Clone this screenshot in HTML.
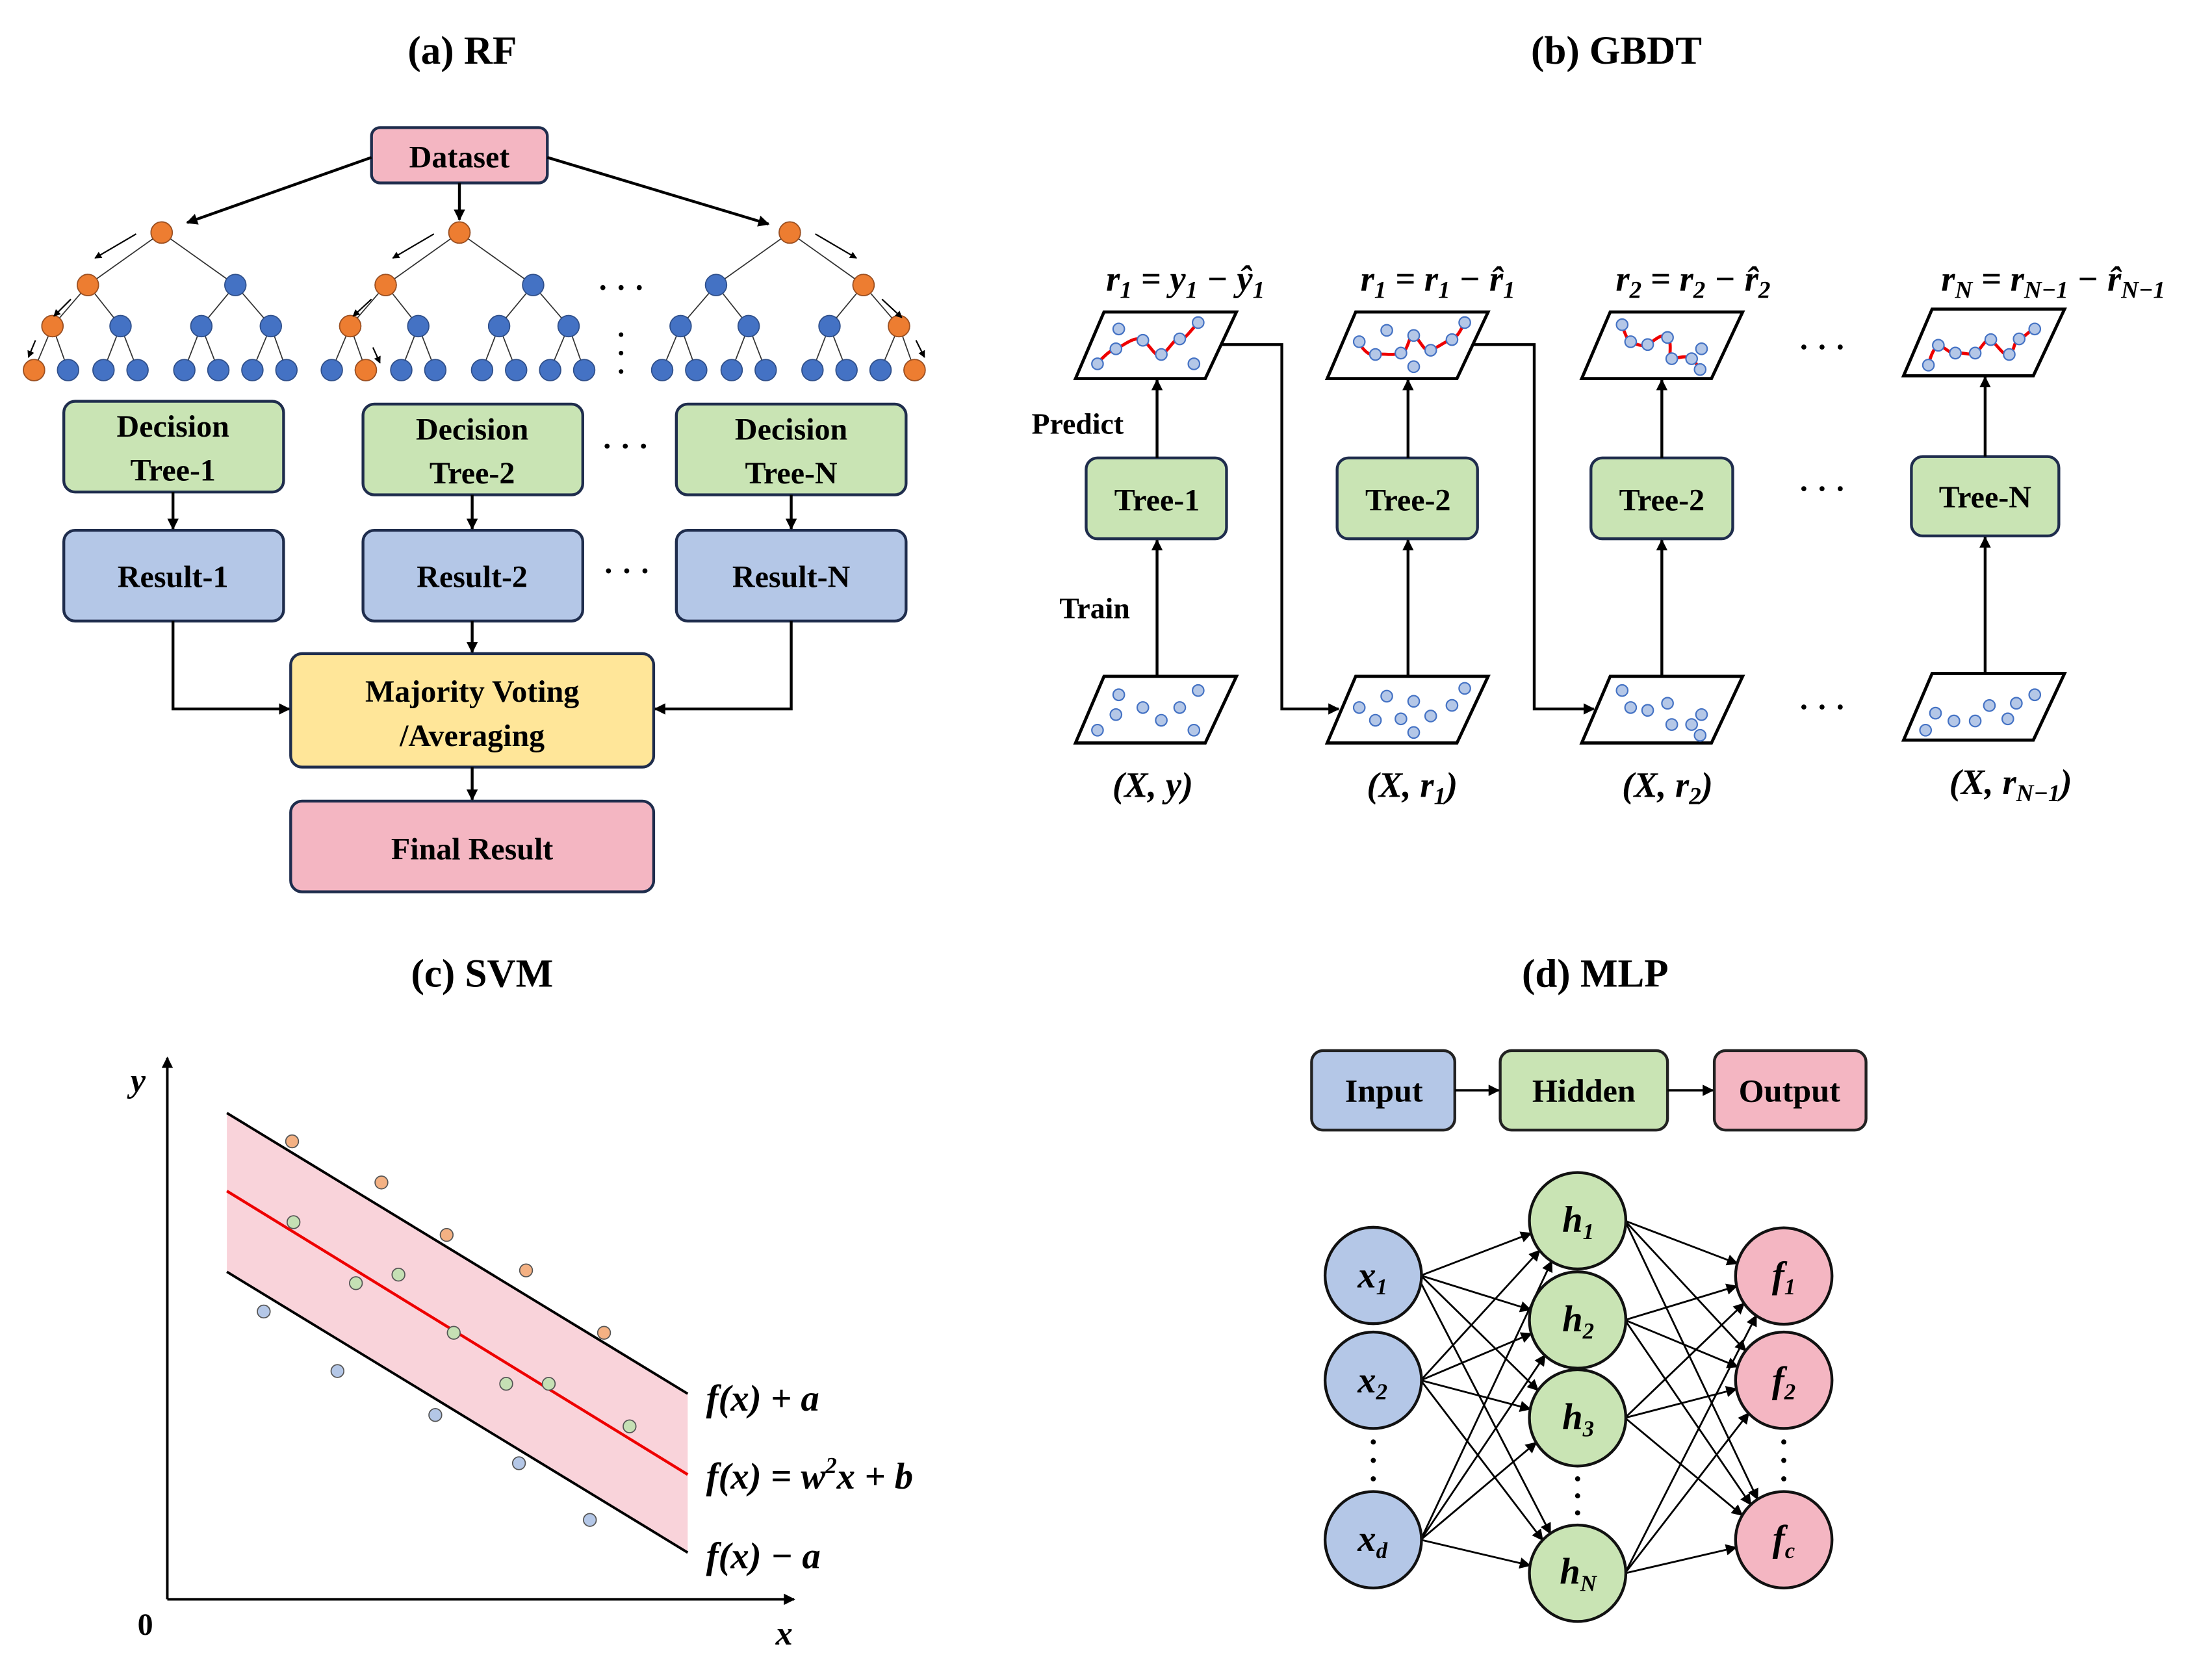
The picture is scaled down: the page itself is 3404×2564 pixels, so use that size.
<!DOCTYPE html>
<html><head><meta charset="utf-8"><style>
html,body{margin:0;padding:0;background:#fff}
svg{display:block}
text{font-family:"Liberation Serif",serif;font-weight:bold;fill:#000}
</style></head><body>
<svg width="3404" height="2564" viewBox="0 0 1560 1175" xmlns="http://www.w3.org/2000/svg">
<defs>
<marker id="ah" viewBox="0 0 10 10" refX="9" refY="5" markerWidth="8" markerHeight="8" markerUnits="userSpaceOnUse" orient="auto"><path d="M0,0L10,5L0,10z" fill="#000"/></marker>
<marker id="as" viewBox="0 0 10 10" refX="9" refY="5" markerWidth="5" markerHeight="5" markerUnits="userSpaceOnUse" orient="auto"><path d="M0,0L10,5L0,10z" fill="#000"/></marker>
<g id="tree">
<path d="M114,164L62,201M114,164L166,201M62,201L37,230M62,201L85,230M166,201L142,230M166,201L191,230M37,230L24,261M37,230L48,261M85,230L73,261M85,230L97,261M142,230L130,261M142,230L154,261M191,230L178,261M191,230L202,261" stroke="#333" stroke-width="0.8" fill="none"/>
<g fill="#4472c4" stroke="#2f4f8a" stroke-width="0.8">
<circle cx="114" cy="164" r="7.5"/><circle cx="62" cy="201" r="7.5"/><circle cx="166" cy="201" r="7.5"/>
<circle cx="37" cy="230" r="7.5"/><circle cx="85" cy="230" r="7.5"/><circle cx="142" cy="230" r="7.5"/><circle cx="191" cy="230" r="7.5"/>
<circle cx="24" cy="261" r="7.5"/><circle cx="48" cy="261" r="7.5"/><circle cx="73" cy="261" r="7.5"/><circle cx="97" cy="261" r="7.5"/>
<circle cx="130" cy="261" r="7.5"/><circle cx="154" cy="261" r="7.5"/><circle cx="178" cy="261" r="7.5"/><circle cx="202" cy="261" r="7.5"/>
</g></g>
<polygon id="para" points="758.5,267 778.6,220 872,220 850,267" fill="#fff" stroke="#000" stroke-width="2.2"/>
</defs>

<!-- (a) RF -->
<text x="326" y="45" font-size="28" text-anchor="middle">(a) RF</text>
<rect x="262" y="90" width="124" height="39" rx="6" fill="#f4b6c2" stroke="#1f2d4d" stroke-width="2"/>
<text x="324" y="118" font-size="22" text-anchor="middle">Dataset</text>
<g stroke="#000" stroke-width="2" fill="none" marker-end="url(#ah)">
<line x1="262" y1="111" x2="132" y2="157"/>
<line x1="324" y1="129" x2="324" y2="155"/>
<line x1="386" y1="111" x2="542" y2="158"/>
</g>
<use href="#tree"/>
<use href="#tree" transform="translate(210,0)"/>
<use href="#tree" transform="translate(443,0)"/>
<g fill="#ed7d31" stroke="#a0501e" stroke-width="0.8">
<circle cx="114" cy="164" r="7.5"/><circle cx="62" cy="201" r="7.5"/><circle cx="37" cy="230" r="7.5"/><circle cx="24" cy="261" r="7.5"/>
<circle cx="324" cy="164" r="7.5"/><circle cx="272" cy="201" r="7.5"/><circle cx="247" cy="230" r="7.5"/><circle cx="258" cy="261" r="7.5"/>
<circle cx="557" cy="164" r="7.5"/><circle cx="609" cy="201" r="7.5"/><circle cx="634" cy="230" r="7.5"/><circle cx="645" cy="261" r="7.5"/>
</g>
<g stroke="#000" stroke-width="1" marker-end="url(#as)">
<line x1="96" y1="165" x2="67" y2="182"/><line x1="50" y1="211" x2="38" y2="223"/><line x1="25" y1="240" x2="20" y2="252"/>
<line x1="306" y1="165" x2="277" y2="182"/><line x1="262" y1="211" x2="249" y2="223"/><line x1="263" y1="245" x2="268" y2="256"/>
<line x1="575" y1="165" x2="604" y2="182"/><line x1="622" y1="211" x2="636" y2="224"/><line x1="646" y1="240" x2="652" y2="252"/>
</g>
<text x="438" y="210" font-size="22" text-anchor="middle">· · ·</text>
<g fill="#000"><circle cx="438" cy="236" r="1.6"/><circle cx="438" cy="249" r="1.6"/><circle cx="438" cy="262" r="1.6"/></g>

<g stroke="#1f2d4d" stroke-width="2">
<rect x="45" y="283" width="155" height="64" rx="8" fill="#c9e4b4"/>
<rect x="256" y="285" width="155" height="64" rx="8" fill="#c9e4b4"/>
<rect x="477" y="285" width="162" height="64" rx="8" fill="#c9e4b4"/>
<rect x="45" y="374" width="155" height="64" rx="8" fill="#b4c7e7"/>
<rect x="256" y="374" width="155" height="64" rx="8" fill="#b4c7e7"/>
<rect x="477" y="374" width="162" height="64" rx="8" fill="#b4c7e7"/>
<rect x="205" y="461" width="256" height="80" rx="8" fill="#ffe699"/>
<rect x="205" y="565" width="256" height="64" rx="8" fill="#f4b6c2"/>
</g>
<g font-size="22" text-anchor="middle">
<text x="122" y="308">Decision</text><text x="122" y="339">Tree-1</text>
<text x="333" y="310">Decision</text><text x="333" y="341">Tree-2</text>
<text x="558" y="310">Decision</text><text x="558" y="341">Tree-N</text>
<text x="122" y="414">Result-1</text><text x="333" y="414">Result-2</text><text x="558" y="414">Result-N</text>
<text x="333" y="495">Majority Voting</text><text x="333" y="526">/Averaging</text>
<text x="333" y="606">Final Result</text>
</g>
<text x="441" y="322" font-size="22" text-anchor="middle">· · ·</text>
<text x="442" y="410" font-size="22" text-anchor="middle">· · ·</text>
<g stroke="#000" stroke-width="2" fill="none" marker-end="url(#ah)">
<line x1="122" y1="347" x2="122" y2="373"/><line x1="333" y1="349" x2="333" y2="373"/><line x1="558" y1="349" x2="558" y2="373"/>
<polyline points="122,438 122,500 204,500"/>
<polyline points="558,438 558,500 462,500"/>
<line x1="333" y1="438" x2="333" y2="460"/>
<line x1="333" y1="541" x2="333" y2="564"/>
</g>

<!-- (b) GBDT -->
<text x="1140" y="45" font-size="28" text-anchor="middle">(b) GBDT</text>
<g font-size="25" font-style="italic">
<text x="836" y="205" text-anchor="middle">r<tspan font-size="17" dy="5">1</tspan><tspan dy="-5"> = y</tspan><tspan font-size="17" dy="5">1</tspan><tspan dy="-5"> − ŷ</tspan><tspan font-size="17" dy="5">1</tspan></text>
<text x="1014" y="205" text-anchor="middle">r<tspan font-size="17" dy="5">1</tspan><tspan dy="-5"> = r</tspan><tspan font-size="17" dy="5">1</tspan><tspan dy="-5"> − r̂</tspan><tspan font-size="17" dy="5">1</tspan></text>
<text x="1194" y="205" text-anchor="middle">r<tspan font-size="17" dy="5">2</tspan><tspan dy="-5"> = r</tspan><tspan font-size="17" dy="5">2</tspan><tspan dy="-5"> − r̂</tspan><tspan font-size="17" dy="5">2</tspan></text>
<text x="1448" y="205" text-anchor="middle">r<tspan font-size="17" dy="5">N</tspan><tspan dy="-5"> = r</tspan><tspan font-size="17" dy="5">N−1</tspan><tspan dy="-5"> − r̂</tspan><tspan font-size="17" dy="5">N−1</tspan></text>
</g>
<use href="#para"/><use href="#para" transform="translate(177.5,0)"/><use href="#para" transform="translate(357,0)"/><use href="#para" transform="translate(584,-2)"/>
<use href="#para" transform="translate(0,257)"/><use href="#para" transform="translate(177.5,257)"/><use href="#para" transform="translate(357,257)"/><use href="#para" transform="translate(584,255)"/>
<g stroke="#e00" stroke-width="2.2" fill="none">
<path d="M774,256 C780,250 783,247 787,246 S800,236 806,240 S814,252 819,250 S828,238 832,239 S840,232 845,228"/>
<path d="M958,241 C962,248 966,251 970,250 S982,251 988,249 S993,236 997,237 S1004,249 1009,247 S1019,241 1024,239 S1030,232 1033,228"/>
<path d="M1144,229 C1146,236 1148,240 1150,241 S1158,245 1162,243 S1172,234 1176,238 S1176,253 1179,253 S1189,250 1193,253 S1197,259 1199,260"/>
<path d="M1360,257 C1362,250 1364,245 1367,244 S1375,250 1379,249 S1389,251 1393,249 S1400,238 1404,240 S1413,252 1417,250 S1420,240 1424,239 S1431,233 1435,232"/>
</g>
<g fill="#b4c7e7" stroke="#4472c4" stroke-width="1">
<circle cx="774" cy="256.6" r="4"/><circle cx="789" cy="232" r="4"/><circle cx="787" cy="246" r="4"/><circle cx="806" cy="240" r="4"/><circle cx="819" cy="250" r="4"/><circle cx="832" cy="239" r="4"/><circle cx="845" cy="227.5" r="4"/><circle cx="842" cy="256.6" r="4"/>
<circle cx="958.6" cy="241" r="4"/><circle cx="978" cy="233" r="4"/><circle cx="970" cy="250" r="4"/><circle cx="988" cy="249" r="4"/><circle cx="997" cy="236.6" r="4"/><circle cx="997" cy="258.6" r="4"/><circle cx="1009" cy="247" r="4"/><circle cx="1024" cy="239.5" r="4"/><circle cx="1033" cy="227.5" r="4"/>
<circle cx="1144" cy="229" r="4"/><circle cx="1150" cy="241" r="4"/><circle cx="1162" cy="243" r="4"/><circle cx="1176" cy="238" r="4"/><circle cx="1179" cy="253" r="4"/><circle cx="1193" cy="253" r="4"/><circle cx="1200" cy="246" r="4"/><circle cx="1199" cy="260.6" r="4"/>
<circle cx="1360" cy="257.5" r="4"/><circle cx="1367" cy="243.5" r="4"/><circle cx="1379" cy="249" r="4"/><circle cx="1393" cy="249" r="4"/><circle cx="1404" cy="239.5" r="4"/><circle cx="1417" cy="250" r="4"/><circle cx="1424" cy="239" r="4"/><circle cx="1435" cy="232" r="4"/>
<circle cx="774" cy="515" r="4"/><circle cx="789" cy="490" r="4"/><circle cx="787" cy="504" r="4"/><circle cx="806" cy="499" r="4"/><circle cx="819" cy="508" r="4"/><circle cx="832" cy="499" r="4"/><circle cx="845" cy="487" r="4"/><circle cx="842" cy="515" r="4"/>
<circle cx="958.6" cy="499" r="4"/><circle cx="978" cy="491" r="4"/><circle cx="970" cy="508" r="4"/><circle cx="988" cy="507" r="4"/><circle cx="997" cy="494.6" r="4"/><circle cx="997" cy="516.6" r="4"/><circle cx="1009" cy="505" r="4"/><circle cx="1024" cy="497.5" r="4"/><circle cx="1033" cy="485.5" r="4"/>
<circle cx="1144" cy="487" r="4"/><circle cx="1150" cy="499" r="4"/><circle cx="1162" cy="501" r="4"/><circle cx="1176" cy="496" r="4"/><circle cx="1179" cy="511" r="4"/><circle cx="1193" cy="511" r="4"/><circle cx="1200" cy="504" r="4"/><circle cx="1199" cy="518.6" r="4"/>
<circle cx="1358" cy="515" r="4"/><circle cx="1365" cy="503" r="4"/><circle cx="1378" cy="508.5" r="4"/><circle cx="1393" cy="508.5" r="4"/><circle cx="1403" cy="497.6" r="4"/><circle cx="1416" cy="507" r="4"/><circle cx="1422" cy="496" r="4"/><circle cx="1435" cy="490" r="4"/>
</g>
<g stroke="#1f2d4d" stroke-width="2" fill="#c9e4b4">
<rect x="766" y="323" width="99" height="57" rx="8"/>
<rect x="943" y="323" width="99" height="57" rx="8"/>
<rect x="1122" y="323" width="100" height="57" rx="8"/>
<rect x="1348" y="322" width="104" height="56" rx="8"/>
</g>
<g font-size="22" text-anchor="middle">
<text x="816" y="360">Tree-1</text><text x="993" y="360">Tree-2</text><text x="1172" y="360">Tree-2</text><text x="1400" y="358">Tree-N</text>
</g>
<text x="760" y="306" font-size="21" text-anchor="middle">Predict</text>
<text x="772" y="436" font-size="21" text-anchor="middle">Train</text>
<g stroke="#000" stroke-width="2" fill="none" marker-end="url(#ah)">
<line x1="816" y1="323" x2="816" y2="268"/><line x1="816" y1="477" x2="816" y2="381"/>
<line x1="993" y1="323" x2="993" y2="268"/><line x1="993" y1="477" x2="993" y2="381"/>
<line x1="1172" y1="323" x2="1172" y2="268"/><line x1="1172" y1="477" x2="1172" y2="381"/>
<line x1="1400" y1="322" x2="1400" y2="266"/><line x1="1400" y1="475" x2="1400" y2="379"/>
<polyline points="861,243 904,243 904,500 944,500"/>
<polyline points="1038,243 1082,243 1082,500 1124,500"/>
</g>
<g font-size="22" text-anchor="middle">
<text x="1285" y="252">· · ·</text><text x="1285" y="352">· · ·</text><text x="1285" y="506">· · ·</text>
</g>
<g font-size="25" font-style="italic" text-anchor="middle">
<text x="813" y="562">(X, y)</text>
<text x="996" y="562">(X, r<tspan font-size="17" dy="5">1</tspan><tspan dy="-5">)</tspan></text>
<text x="1176" y="562">(X, r<tspan font-size="17" dy="5">2</tspan><tspan dy="-5">)</tspan></text>
<text x="1418" y="560">(X, r<tspan font-size="17" dy="5">N−1</tspan><tspan dy="-5">)</tspan></text>
</g>

<!-- (c) SVM -->
<text x="340" y="696" font-size="28" text-anchor="middle">(c) SVM</text>
<polygon points="160,785 485,983 485,1095 160,897" fill="#f9d3da"/>
<g stroke="#000" stroke-width="1.8" fill="none">
<line x1="160" y1="785" x2="485" y2="983"/>
<line x1="160" y1="897" x2="485" y2="1095"/>
<line x1="118" y1="1128" x2="118" y2="746" marker-end="url(#ah)"/>
<line x1="118" y1="1128" x2="560" y2="1128" marker-end="url(#ah)"/>
</g>
<line x1="160" y1="840" x2="485" y2="1040" stroke="#e00" stroke-width="2"/>
<g stroke="#555" stroke-width="0.8">
<g fill="#f4b183"><circle cx="206" cy="805" r="4.5"/><circle cx="269" cy="834" r="4.5"/><circle cx="315" cy="871" r="4.5"/><circle cx="371" cy="896" r="4.5"/><circle cx="426" cy="940" r="4.5"/></g>
<g fill="#c5e0b4"><circle cx="207" cy="862" r="4.5"/><circle cx="251" cy="905" r="4.5"/><circle cx="281" cy="899" r="4.5"/><circle cx="320" cy="940" r="4.5"/><circle cx="357" cy="976" r="4.5"/><circle cx="387" cy="976" r="4.5"/><circle cx="444" cy="1006" r="4.5"/></g>
<g fill="#b4c7e7"><circle cx="186" cy="925" r="4.5"/><circle cx="238" cy="967" r="4.5"/><circle cx="307" cy="998" r="4.5"/><circle cx="366" cy="1032" r="4.5"/><circle cx="416" cy="1072" r="4.5"/></g>
</g>
<text x="92" y="770" font-size="24" font-style="italic">y</text>
<text x="97" y="1153" font-size="22">0</text>
<text x="547" y="1160" font-size="24" font-style="italic">x</text>
<g font-size="26" font-style="italic">
<text x="498" y="995">f(x) + a</text>
<text x="498" y="1050">f(x) = w<tspan font-size="16" dy="-11">2</tspan><tspan dy="11">x + b</tspan></text>
<text x="498" y="1106">f(x) − a</text>
</g>

<!-- (d) MLP -->
<text x="1125" y="696" font-size="28" text-anchor="middle">(d) MLP</text>
<g stroke="#222" stroke-width="2">
<rect x="925" y="741" width="101" height="56" rx="8" fill="#b4c7e7"/>
<rect x="1058" y="741" width="118" height="56" rx="8" fill="#c9e4b4"/>
<rect x="1209" y="741" width="107" height="56" rx="8" fill="#f4b6c2"/>
</g>
<g font-size="23" text-anchor="middle">
<text x="976" y="777">Input</text><text x="1117" y="777">Hidden</text><text x="1262" y="777">Output</text>
</g>
<g stroke="#000" stroke-width="1.6" fill="none" marker-end="url(#ah)">
<line x1="1026" y1="769" x2="1057" y2="769"/><line x1="1176" y1="769" x2="1208" y2="769"/>
</g>
<g stroke="#000" stroke-width="1.3" fill="none" marker-end="url(#ah)">
<line x1="1002" y1="899.6" x2="1079.8" y2="869.8"/>
<line x1="1002" y1="899.6" x2="1079.4" y2="923.8"/>
<line x1="1002" y1="899.6" x2="1084.6" y2="980.5"/>
<line x1="997" y1="895" x2="1093.4" y2="1081.6"/>
<line x1="1002" y1="973.5" x2="1085.8" y2="881.9"/>
<line x1="1002" y1="973.5" x2="1080" y2="940.6"/>
<line x1="1002" y1="973.5" x2="1079.2" y2="993.8"/>
<line x1="1002" y1="973.5" x2="1087.9" y2="1086.2"/>
<line x1="1002" y1="1086" x2="1094.3" y2="889.6"/>
<line x1="1002" y1="1086" x2="1089.6" y2="955.8"/>
<line x1="1002" y1="1086" x2="1083.4" y2="1017.4"/>
<line x1="1002" y1="1086" x2="1079" y2="1104.1"/>
<line x1="1146" y1="861" x2="1225.2" y2="891.2"/>
<line x1="1146" y1="861" x2="1231.1" y2="952.7"/>
<line x1="1146" y1="861" x2="1239.5" y2="1057.4"/>
<line x1="1146" y1="931" x2="1224.8" y2="907.1"/>
<line x1="1146" y1="931" x2="1225.4" y2="964"/>
<line x1="1146" y1="931" x2="1234.7" y2="1061.2"/>
<line x1="1146" y1="1000" x2="1230" y2="919.3"/>
<line x1="1146" y1="1000" x2="1224.6" y2="979.6"/>
<line x1="1146" y1="1000" x2="1228.7" y2="1068.7"/>
<line x1="1146" y1="1109.6" x2="1238.6" y2="927.9"/>
<line x1="1146" y1="1109.6" x2="1233.2" y2="996.7"/>
<line x1="1146" y1="1109.6" x2="1224.4" y2="1091.4"/>
</g>
<g stroke="#111" stroke-width="2">
<circle cx="968.5" cy="899.6" r="34" fill="#b4c7e7"/><circle cx="968.5" cy="973.5" r="34" fill="#b4c7e7"/><circle cx="968.5" cy="1086" r="34" fill="#b4c7e7"/>
<circle cx="1112.6" cy="861" r="34" fill="#c9e4b4"/><circle cx="1112.6" cy="931" r="34" fill="#c9e4b4"/><circle cx="1112.6" cy="1000" r="34" fill="#c9e4b4"/><circle cx="1112.6" cy="1109.6" r="34" fill="#c9e4b4"/>
<circle cx="1258" cy="900" r="34" fill="#f4b6c2"/><circle cx="1258" cy="973.5" r="34" fill="#f4b6c2"/><circle cx="1258" cy="1086" r="34" fill="#f4b6c2"/>
</g>
<g fill="#000">
<circle cx="968.5" cy="1017" r="1.8"/><circle cx="968.5" cy="1030" r="1.8"/><circle cx="968.5" cy="1043" r="1.8"/>
<circle cx="1112.6" cy="1043" r="1.8"/><circle cx="1112.6" cy="1055" r="1.8"/><circle cx="1112.6" cy="1067" r="1.8"/>
<circle cx="1258" cy="1017" r="1.8"/><circle cx="1258" cy="1030" r="1.8"/><circle cx="1258" cy="1043" r="1.8"/>
</g>
<g font-size="26" font-style="italic" text-anchor="middle">
<text x="968" y="908">x<tspan font-size="16" dy="5">1</tspan></text>
<text x="968" y="982">x<tspan font-size="16" dy="5">2</tspan></text>
<text x="968" y="1094">x<tspan font-size="16" dy="5">d</tspan></text>
<text x="1113" y="869">h<tspan font-size="16" dy="5">1</tspan></text>
<text x="1113" y="939">h<tspan font-size="16" dy="5">2</tspan></text>
<text x="1113" y="1008">h<tspan font-size="16" dy="5">3</tspan></text>
<text x="1113" y="1117">h<tspan font-size="16" dy="5">N</tspan></text>
<text x="1258" y="908">f<tspan font-size="16" dy="5">1</tspan></text>
<text x="1258" y="982">f<tspan font-size="16" dy="5">2</tspan></text>
<text x="1258" y="1094">f<tspan font-size="16" dy="5">c</tspan></text>
</g>
</svg>
</body></html>
